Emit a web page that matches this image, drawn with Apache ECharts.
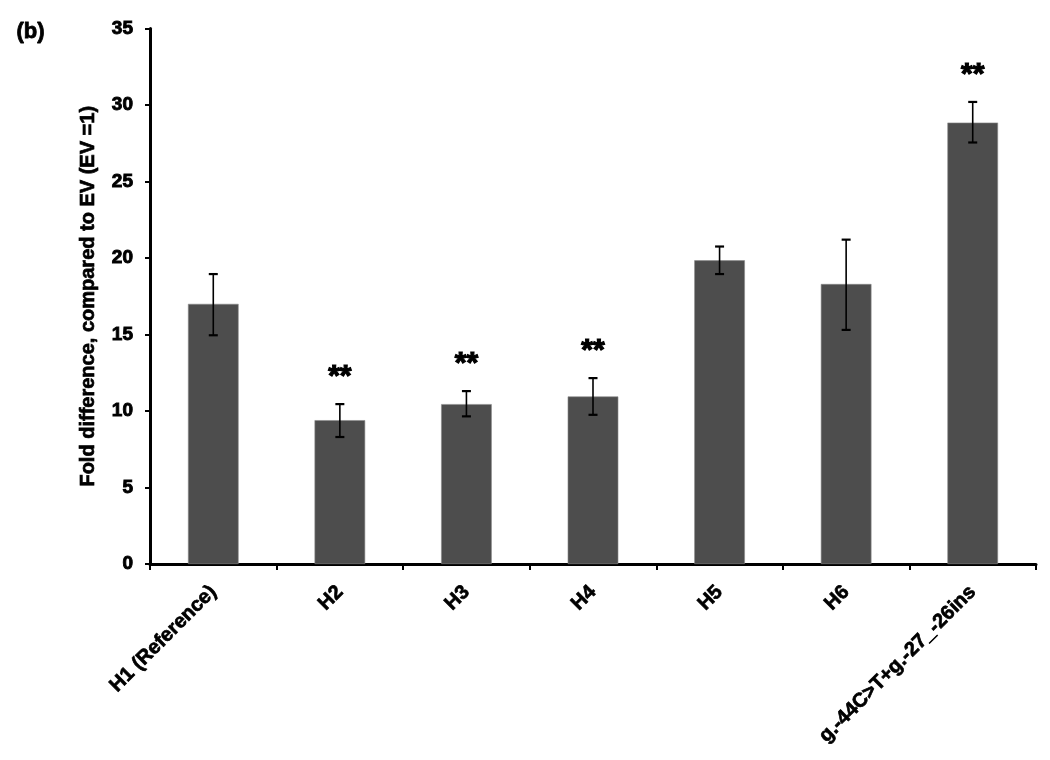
<!DOCTYPE html>
<html>
<head>
<meta charset="utf-8">
<script src="https://cdn.jsdelivr.net/npm/echarts@6/dist/echarts.min.js"></script>
<style>html,body{margin:0;padding:0;background:#fff;}#c{width:1050px;height:760px;}</style>
</head>
<body>
<div id="c"></div>
<script>
var categories = ['H1 (Reference)', 'H2', 'H3', 'H4', 'H5', 'H6', 'g.-44C>T+g.-27_-26ins'];
var values = [17.0, 9.4, 10.45, 10.95, 19.85, 18.3, 28.85];
var errLow = [14.95, 8.3, 9.65, 9.75, 18.95, 15.3, 27.55];
var errHigh = [18.95, 10.45, 11.3, 12.15, 20.75, 21.2, 30.2];
var significance = ['', '**', '**', '**', '', '', '**'];
var yTicks = [0, 5, 10, 15, 20, 25, 30, 35];

var FONT = '"Liberation Sans", Arial, sans-serif';
var chart = echarts.init(document.getElementById('c'), null, {renderer: 'canvas'});
var errData = categories.map(function (c, i) { return [i, errLow[i], errHigh[i], significance[i]]; });

chart.setOption({
  animation: false,
  backgroundColor: '#ffffff',
  graphic: [{
    type: 'text', left: 16, top: 21,
    style: {text: '(b)', font: 'bold 22px ' + FONT, fill: '#000', stroke: '#000', lineWidth: 0.8}
  }],
  grid: {left: 150, right: 14, top: 28.5, bottom: 196, containLabel: false},
  xAxis: {
    type: 'category',
    data: categories,
    axisLine: {lineStyle: {color: '#000', width: 3}},
    axisTick: {show: true, length: 6, lineStyle: {color: '#000', width: 2}},
    axisLabel: {
      rotate: 45, interval: 0, margin: 25, color: '#000',
      fontFamily: FONT, fontWeight: 'bold', fontSize: 20,
      textBorderColor: '#000', textBorderWidth: 0.7
    }
  },
  yAxis: {
    type: 'value', min: yTicks[0], max: yTicks[yTicks.length - 1], interval: 5,
    name: 'Fold difference, compared to EV (EV =1)',
    nameLocation: 'middle', nameGap: 52, nameRotate: 90,
    nameTextStyle: {color: '#000', fontFamily: FONT, fontWeight: 'bold', fontSize: 20,
      textBorderColor: '#000', textBorderWidth: 0.7},
    axisLine: {show: true, lineStyle: {color: '#000', width: 3}},
    axisTick: {show: true, length: 5, lineStyle: {color: '#000', width: 2}},
    splitLine: {show: false},
    axisLabel: {color: '#000', fontFamily: FONT, fontWeight: 'bold', fontSize: 19, margin: 17,
      textBorderColor: '#000', textBorderWidth: 0.9}
  },
  series: [{
    type: 'bar',
    data: values,
    barWidth: '40%',
    itemStyle: {color: '#4d4d4d', borderColor: '#8a8a8a', borderWidth: 0.6},
    z: 2
  }, {
    type: 'custom',
    data: errData,
    z: 5,
    renderItem: function (params, api) {
      var x = api.value(0);
      var lo = api.coord([x, api.value(1)]);
      var hi = api.coord([x, api.value(2)]);
      var cap = 4.5;
      var st = {stroke: '#000', lineWidth: 1.6};
      var children = [
        {type: 'line', shape: {x1: hi[0], y1: hi[1], x2: lo[0], y2: lo[1]}, style: st},
        {type: 'line', shape: {x1: hi[0] - cap, y1: hi[1], x2: hi[0] + cap, y2: hi[1]}, style: {stroke: '#000', lineWidth: 2.2}},
        {type: 'line', shape: {x1: lo[0] - cap, y1: lo[1], x2: lo[0] + cap, y2: lo[1]}, style: {stroke: '#000', lineWidth: 2.2}}
      ];
      var sig = api.value(3);
      if (sig) {
        children.push({
          type: 'text',
          style: {
            text: sig, x: hi[0], y: hi[1] - 27,
            font: 'bold 30px ' + FONT, fill: '#000', stroke: '#000', lineWidth: 1.2,
            align: 'center', verticalAlign: 'middle'
          }
        });
      }
      return {type: 'group', children: children};
    }
  }]
});
</script>
</body>
</html>
